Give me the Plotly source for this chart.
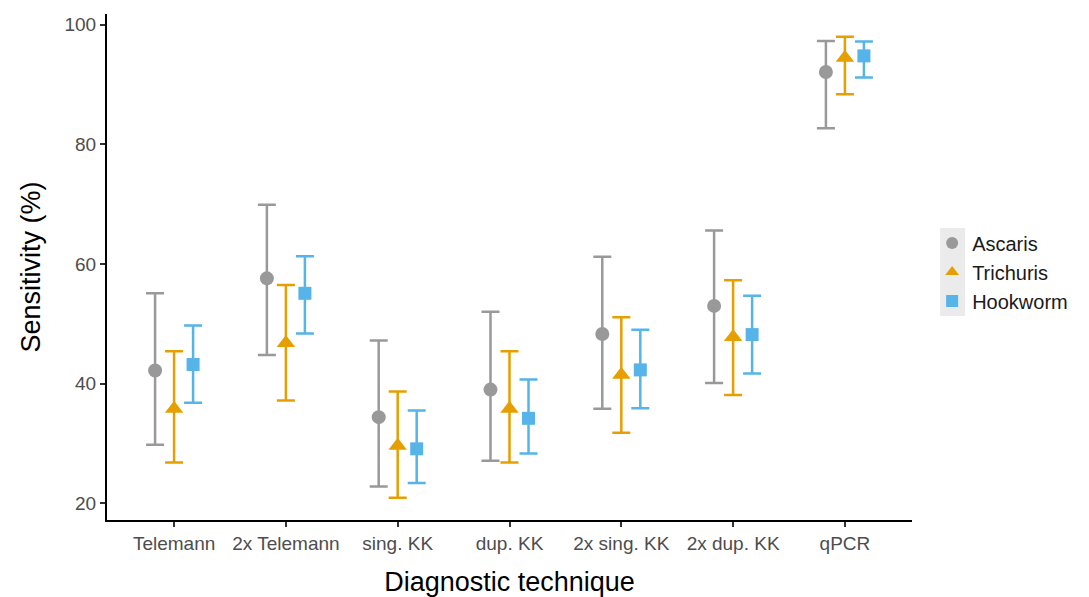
import plotly.graph_objects as go

categories = ["Telemann", "2x Telemann", "sing. KK", "dup. KK", "2x sing. KK", "2x dup. KK", "qPCR"]

ascaris_est = [42.2, 57.6, 34.4, 39.0, 48.3, 53.0, 92.1]
ascaris_lo = [29.8, 44.8, 22.8, 27.1, 35.8, 40.1, 82.7]
ascaris_hi = [55.1, 69.9, 47.2, 52.0, 61.2, 65.6, 97.3]

trichuris_est = [35.8, 46.8, 29.6, 35.8, 41.5, 47.8, 94.5]
trichuris_lo = [26.8, 37.2, 20.9, 26.8, 31.8, 38.1, 88.4]
trichuris_hi = [45.4, 56.5, 38.7, 45.4, 51.1, 57.3, 98.0]

hookworm_est = [43.2, 55.1, 29.1, 34.2, 42.3, 48.2, 94.8]
hookworm_lo = [36.8, 48.4, 23.4, 28.3, 35.9, 41.7, 91.2]
hookworm_hi = [49.7, 61.3, 35.5, 40.7, 49.0, 54.7, 97.2]

y_ticks = [20, 40, 60, 80, 100]

series = [
    ("Ascaris", ascaris_est, ascaris_lo, ascaris_hi, "#999999", "circle", 14, -0.17),
    ("Trichuris", trichuris_est, trichuris_lo, trichuris_hi, "#E69F00", "triangle-up", 16, 0.0),
    ("Hookworm", hookworm_est, hookworm_lo, hookworm_hi, "#56B4E9", "square", 13, 0.17),
]

fig = go.Figure()
xbase = list(range(1, len(categories) + 1))
for name, est, lo, hi, color, sym, size, off in series:
    fig.add_trace(go.Scatter(
        x=[b + off for b in xbase],
        y=est,
        mode="markers",
        name=name,
        marker=dict(color=color, symbol=sym, size=size),
        error_y=dict(
            type="data",
            symmetric=False,
            array=[h - e for h, e in zip(hi, est)],
            arrayminus=[e - l for e, l in zip(est, lo)],
            color=color,
            thickness=2.5,
            width=9,
        ),
    ))

font_family = "Liberation Sans, Arial, sans-serif"
fig.update_layout(
    width=1089,
    height=597,
    paper_bgcolor="white",
    plot_bgcolor="white",
    margin=dict(l=107, r=177, t=14, b=77),
    font=dict(family=font_family),
    showlegend=True,
    legend=dict(
        x=1.025, y=0.49, xanchor="left", yanchor="middle",
        font=dict(size=20, color="#1a1a1a", family=font_family),
        bgcolor="rgba(0,0,0,0)",
        itemsizing="constant",
        tracegroupgap=0,
    ),
    xaxis=dict(
        range=[0.4, 7.6],
        tickmode="array",
        tickvals=xbase,
        ticktext=categories,
        showline=True, linecolor="black", linewidth=2,
        ticks="outside", ticklen=5, tickwidth=1.5, tickcolor="#333333",
        tickfont=dict(size=19, color="#4d4d4d"),
        showgrid=False, zeroline=False, automargin=False,
        title=dict(text="Diagnostic technique", font=dict(size=27, color="black"), standoff=20),
    ),
    yaxis=dict(
        range=[17.2, 101.8],
        tickmode="array",
        tickvals=y_ticks,
        ticktext=[str(t) for t in y_ticks],
        showline=True, linecolor="black", linewidth=2,
        ticks="outside", ticklen=5, tickwidth=1.5, tickcolor="#333333",
        tickfont=dict(size=19, color="#4d4d4d"),
        showgrid=False, zeroline=False, automargin=False,
        title=dict(text="Sensitivity (%)", font=dict(size=27, color="black"), standoff=16),
    ),
)

fig.add_shape(type="rect", xref="paper", yref="paper",
              x0=1.035, x1=1.066, y0=0.403, y1=0.577,
              fillcolor="#ebebeb", line=dict(width=0), layer="below")

fig.write_html("out.html", config={"displayModeBar": False},
               post_script="document.body.style.margin='0';")
